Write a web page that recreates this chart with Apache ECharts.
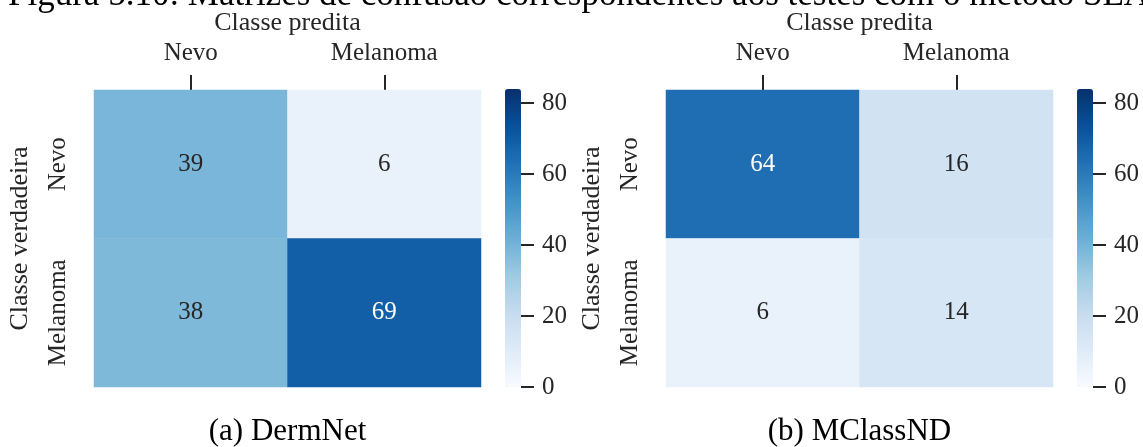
<!DOCTYPE html>
<html>
<head>
<meta charset="utf-8">
<script src="https://cdn.jsdelivr.net/npm/echarts@6/dist/echarts.min.js"></script>
<style>
  html, body { margin: 0; padding: 0; background: #fff; }
  #chart { width: 1143px; height: 447px; }
</style>
</head>
<body>
<div id="chart"></div>
<script>
// dados das matrizes de confusao (linha = classe verdadeira, coluna = classe predita)
const classes = ['Nevo', 'Melanoma'];
const dermnetMatrix = [[39, 6], [38, 69]];
const mclassMatrix = [[64, 16], [6, 14]];
const colorbarTickStep = 20;
const colorbarTickMax = 80;
const colorMin = 0;
const colorMax = 84;
const panelCaptions = ['(a) DermNet', '(b) MClassND'];
const figureTitle = 'Figura 5.10: Matrizes de confusão correspondentes aos testes com o método SEA';

// paleta Blues (matplotlib)
const blues = ['#f7fbff', '#deebf7', '#c6dbef', '#9ecae1', '#6baed6', '#4292c6', '#2171b5', '#08519c', '#08306b'];

const font = 'Liberation Serif';
const ink = '#262626';

const chart = echarts.init(document.getElementById('chart'));

const grid = [];
const xAxis = [];
const yAxis = [];
const series = [];
const visualMap = [];
const graphic = [];

const cellTop = 90;
const cellHeight = 297;
const barTop = 89;
const barHeight = 298;

const buildPanel = (matrix, left, caption) => {
  const g = grid.length;
  const barLeft = left + 411;
  // o eixo da barra de cores vai de 0 ate 80, proporcional a escala 0..84
  const axisHeight = barHeight * (colorbarTickMax - colorMin) / (colorMax - colorMin);
  grid.push(
    { left: left, top: cellTop, width: 387, height: cellHeight },
    { left: barLeft, top: barTop + barHeight - axisHeight, width: 16, height: axisHeight }
  );

  xAxis.push({
    type: 'category',
    gridIndex: g,
    data: classes,
    position: 'top',
    name: 'Classe predita',
    nameLocation: 'middle',
    nameGap: 51,
    nameTextStyle: { fontFamily: font, fontSize: 26, color: ink },
    axisLine: { show: false },
    axisTick: { show: true, alignWithLabel: true, length: 15, lineStyle: { color: ink, width: 2 } },
    axisLabel: { margin: 24, fontFamily: font, fontSize: 25, color: ink },
    splitLine: { show: false }
  });
  yAxis.push({
    type: 'category',
    gridIndex: g,
    data: classes,
    inverse: true,
    name: 'Classe verdadeira',
    nameLocation: 'middle',
    nameGap: 61,
    nameTextStyle: { fontFamily: font, fontSize: 26, color: ink },
    axisLine: { show: false },
    axisTick: { show: false },
    axisLabel: { rotate: 90, margin: 23, fontFamily: font, fontSize: 25, color: ink },
    splitLine: { show: false }
  });

  // eixo da barra de cores
  xAxis.push({ type: 'value', gridIndex: g + 1, show: false });
  yAxis.push({
    type: 'value',
    gridIndex: g + 1,
    min: colorMin,
    max: colorbarTickMax,
    interval: colorbarTickStep,
    position: 'right',
    axisLine: { show: false, onZero: false },
    axisTick: { show: true, length: 13, lineStyle: { color: ink, width: 2 } },
    axisLabel: { margin: 21, fontFamily: font, fontSize: 25, color: ink },
    splitLine: { show: false }
  });

  const data = [];
  matrix.forEach((row, r) => {
    row.forEach((value, c) => {
      data.push({
        value: [c, r, value],
        label: { color: value > colorMax * 0.6 ? '#ffffff' : ink }
      });
    });
  });

  const seriesIndex = series.length;
  series.push({
    type: 'heatmap',
    xAxisIndex: g,
    yAxisIndex: g,
    data: data,
    label: { show: true, fontFamily: font, fontSize: 25 },
    emphasis: { disabled: true },
    itemStyle: { borderWidth: 0 }
  });

  visualMap.push({
    type: 'continuous',
    seriesIndex: seriesIndex,
    min: colorMin,
    max: colorMax,
    calculable: false,
    orient: 'vertical',
    left: barLeft,
    top: barTop,
    itemWidth: 16,
    itemHeight: barHeight,
    padding: 0,
    text: null,
    showLabel: false,
    hoverLink: false,
    inRange: { color: blues }
  });

  graphic.push({
    type: 'text',
    style: {
      text: caption,
      x: left + 193.5,
      y: 432,
      align: 'center',
      verticalAlign: 'middle',
      font: '31px "' + font + '"',
      fill: '#000'
    }
  });
};

buildPanel(dermnetMatrix, 94, panelCaptions[0]);
buildPanel(mclassMatrix, 666, panelCaptions[1]);

graphic.push({
  type: 'text',
  style: {
    text: figureTitle,
    x: 8,
    y: -4,
    align: 'left',
    verticalAlign: 'middle',
    font: '35px "' + font + '"',
    fill: '#000'
  }
});

const option = {
  animation: false,
  backgroundColor: '#ffffff',
  grid: grid,
  xAxis: xAxis,
  yAxis: yAxis,
  visualMap: visualMap,
  series: series,
  graphic: graphic
};

chart.setOption(option);
</script>
</body>
</html>
